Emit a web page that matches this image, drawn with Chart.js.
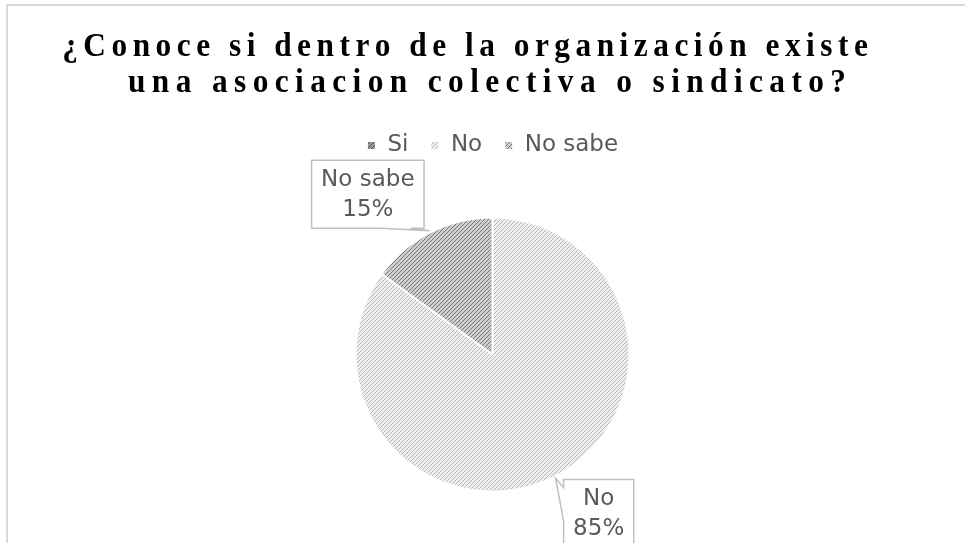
<!DOCTYPE html>
<html>
<head>
<meta charset="utf-8">
<script src="https://cdn.jsdelivr.net/npm/chart.js@4/dist/chart.umd.min.js"></script>
<style>
  html, body { margin: 0; padding: 0; background: #fff; }
  #wrap { width: 965px; height: 543px; position: relative; }
</style>
</head>
<body>
<div id="wrap"><canvas id="chartCanvas"></canvas></div>
<script>
"use strict";

const titleLines = ["¿Conoce si dentro de la organización existe", "una asociacion colectiva o sindicato?"];
const categories = ["Si", "No", "No sabe"];
const percentages = [0, 85, 15];

// fondo / rayas de cada categoría
const patternColors = [
  ["#9a9a9a", "#555555"],
  ["#efefef", "#b5b5b5"],
  ["#cfcfcf", "#767676"]
];

// posición de las etiquetas (en radios desde el centro) y lado del piquito
const calloutPlace = {
  1: { dx: 0.775, dy: 1.16, side: "left" },
  2: { dx: -0.91, dy: -1.17, side: "bottom" }
};

function stripes(bg, fg) {
  const c = document.createElement("canvas");
  c.width = 4;
  c.height = 4;
  const g = c.getContext("2d");
  g.fillStyle = bg;
  g.fillRect(0, 0, 4, 4);
  g.fillStyle = fg;
  for (let i = 0; i < 4; i++) {
    g.fillRect(i, 3 - i, 1, 1);
  }
  return g.createPattern(c, "repeat");
}

const fills = patternColors.map(p => stripes(p[0], p[1]));

const framePlugin = {
  id: "frame",
  beforeDraw(chart) {
    const ctx = chart.ctx;
    ctx.save();
    ctx.strokeStyle = "#d9d9d9";
    ctx.lineWidth = 2;
    ctx.strokeRect(7, 5, 1000, 1000);
    ctx.restore();
  }
};

const titlePlugin = {
  id: "spacedTitle",
  afterDraw(chart) {
    const ctx = chart.ctx;
    const sx = 0.95;
    const gaps = [5.5, 6.4];
    const centers = [465, 487];
    const baselines = [56, 92];
    ctx.save();
    ctx.font = "bold 33px 'Liberation Serif', 'Times New Roman', serif";
    ctx.fillStyle = "#000";
    ctx.textBaseline = "alphabetic";
    titleLines.forEach((line, li) => {
      const chars = Array.from(line);
      const gap = gaps[li];
      const widths = chars.map(ch => ctx.measureText(ch).width * sx);
      const total = widths.reduce((a, b) => a + b, 0) + gap * (chars.length - 1);
      let x = centers[li] - total / 2;
      chars.forEach((ch, i) => {
        ctx.save();
        ctx.translate(x, baselines[li]);
        ctx.scale(sx, 1);
        ctx.fillText(ch, 0, 0);
        ctx.restore();
        x += widths[i] + gap;
      });
    });
    ctx.restore();
  }
};

const calloutPlugin = {
  id: "callouts",
  afterDatasetsDraw(chart) {
    const ctx = chart.ctx;
    const meta = chart.getDatasetMeta(0);
    ctx.save();
    ctx.font = "23px 'DejaVu Sans', Verdana, sans-serif";
    meta.data.forEach((arc, i) => {
      const place = calloutPlace[i];
      if (!place || !percentages[i]) return;
      const p = arc.getProps(["x", "y", "startAngle", "endAngle", "outerRadius"], true);
      const mid = (p.startAngle + p.endAngle) / 2;
      const tipX = p.x + Math.cos(mid) * (p.outerRadius + 2);
      const tipY = p.y + Math.sin(mid) * (p.outerRadius + 2);
      const lines = [categories[i], percentages[i] + "%"];
      const tw = Math.max(...lines.map(l => ctx.measureText(l).width));
      const w = tw + 19;
      const h = 68;
      const cx = p.x + place.dx * p.outerRadius;
      const cy = p.y + place.dy * p.outerRadius;
      const l = cx - w / 2, t = cy - h / 2, r = cx + w / 2, b = cy + h / 2;

      ctx.beginPath();
      ctx.moveTo(l, t);
      ctx.lineTo(r, t);
      ctx.lineTo(r, b);
      if (place.side === "bottom") {
        ctx.lineTo(l + w * 0.88, b);
        ctx.lineTo(tipX, tipY);
        ctx.lineTo(l + w * 0.62, b);
        ctx.lineTo(l, b);
        ctx.closePath();
      } else {
        ctx.lineTo(l, b);
        ctx.lineTo(l, t + 42);
        ctx.lineTo(tipX, tipY);
        ctx.lineTo(l, t + 8);
        ctx.closePath();
      }
      ctx.fillStyle = "#fff";
      ctx.fill();
      ctx.strokeStyle = "#bfbfbf";
      ctx.lineWidth = 1.5;
      ctx.stroke();

      ctx.fillStyle = "#595959";
      ctx.textAlign = "center";
      ctx.textBaseline = "middle";
      ctx.fillText(lines[0], cx, t + 20);
      ctx.fillText(lines[1], cx, t + 50);
    });
    ctx.restore();
  }
};

document.addEventListener("DOMContentLoaded", () => {
  const ctx = document.querySelector("#chartCanvas").getContext("2d");

  new Chart(ctx, {
    type: "pie",
    data: {
      labels: categories,
      datasets: [
        {
          data: percentages,
          backgroundColor: fills,
          borderColor: "#ffffff",
          borderWidth: 2,
          radius: 137
        }
      ]
    },
    options: {
      responsive: true,
      maintainAspectRatio: false,
      animation: false,
      layout: {
        padding: { top: 112, left: 20, right: 0, bottom: 1 }
      },
      plugins: {
        title: { display: false },
        tooltip: { enabled: false },
        legend: {
          display: true,
          position: "top",
          labels: {
            boxWidth: 9,
            boxHeight: 9,
            padding: 22,
            color: "#595959",
            font: { family: "'DejaVu Sans', Verdana, sans-serif", size: 23 }
          }
        }
      }
    },
    plugins: [framePlugin, titlePlugin, calloutPlugin]
  });
});
</script>
</body>
</html>
